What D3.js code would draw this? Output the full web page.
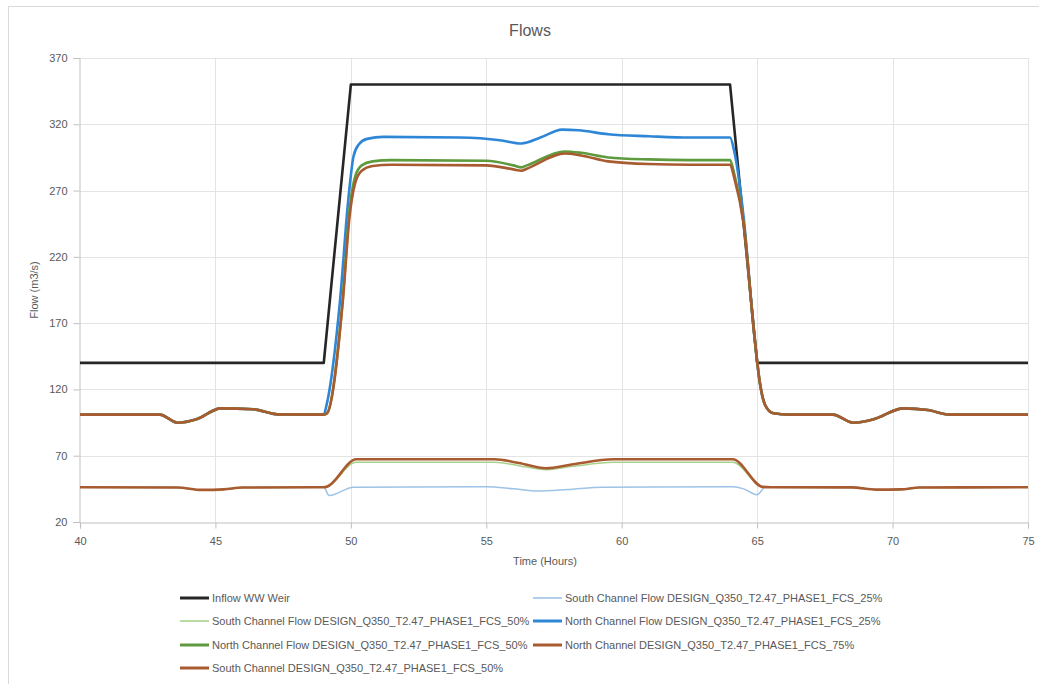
<!DOCTYPE html>
<html>
<head>
<meta charset="utf-8">
<script src="https://cdn.jsdelivr.net/npm/d3@7"></script>
<style>
	body { margin: 0; background: #fff; }
	text { font-family: "Liberation Sans", Arial, sans-serif; fill: #595959; }
</style>
</head>
<body>
<script>

// series data: [time (hours), flow (m3/s)]
var inflow = [[40,140],[49,140],[50,350],[64,350],[65,140],[75,140]];

// shared low-flow shoulders of the north channel series
var northPre = [[40,101],[42.95,101],[43.6,94.9],[44.3,97.5],[45.2,105.7],[46.4,105],[47.3,101.2],[49,101]];
var northPost = [[65.6,102],[66.2,101],[67.8,101],[68.55,94.9],[69.3,97.5],[70.4,105.7],[71.3,104.5],[72.1,101],[75,101]];

// shared shoulders of the south channel series
var southPre = [[40,46.2],[43.6,46],[44.5,44.2],[45.3,44.6],[46,46],[49,46.2]];
var southPost = [[65.5,46.2],[68.5,46.1],[69.4,44.4],[70.3,44.6],[71,46],[75,46.2]];

var north25 = [[49.1,108],[49.6,187],[49.9,262],[50.1,296],[50.3,305],[50.6,309],[51.2,310.5],[54,310],[55.5,308],[56.3,305.5],
	[57,310],[57.8,316],[58.4,315.5],[59.5,312.5],[61,311],[62.5,310],[64,310],[64.15,300],[64.5,250],[64.9,160],[65.1,125],[65.3,108]];
var north50 = [[49.12,102],[49.7,188],[49.95,255],[50.15,280],[50.4,289],[50.8,292],[51.5,293],[55,292.5],[56,289],[56.3,287.5],
	[56.5,289],[57.9,299.5],[58.5,298.5],[59.5,295],[61,293.5],[62.5,293],[64,293],[64.15,283],[64.5,246],[64.9,160],[65.1,125],[65.3,108]];
var north75 = [[49.12,102],[49.7,186],[49.95,250],[50.15,275],[50.4,285],[50.8,288.5],[51.5,289.5],[55,289],[56,286],[56.3,285],
	[56.5,286.5],[57.9,298],[58.5,296.5],[59.5,292],[61,290],[62.5,289.5],[64,289.5],[64.15,280],[64.5,245],[64.9,160],[65.1,125],[65.3,108]];

var south25 = [[49.2,40],[50.1,46.3],[55,46.5],[56,45],[56.9,43.4],[58,44.5],[59.3,46.3],[64.1,46.5],[64.5,45],[65,40.5],[65.3,46.2]];
var south50 = [[49.1,46.5],[50.2,65],[55.3,65],[56.2,62.5],[57.2,59.5],[58.2,62],[59.7,65],[64.1,65],[65.2,46.5]];
var south75 = [[49.1,46.5],[50.2,67.3],[55.3,67.3],[56.2,64.5],[57.2,60.5],[58.2,63.5],[59.7,67.3],[64.1,67.3],[65.2,46.5]];

var yTicks = [20,70,120,170,220,270,320,370];
var xTicks = [40,45,50,55,60,65,70,75];

var series = [
	{ name: 'Inflow WW Weir', data: inflow, color: '#262626', width: 2.6, curve: d3.curveLinear },
	{ name: 'South Channel Flow DESIGN_Q350_T2.47_PHASE1_FCS_25%', data: southPre.concat(south25, southPost), color: '#9DC3E6', width: 1.5 },
	{ name: 'South Channel Flow DESIGN_Q350_T2.47_PHASE1_FCS_50%', data: southPre.concat(south50, southPost), color: '#A9D18E', width: 1.5 },
	{ name: 'North Channel Flow DESIGN_Q350_T2.47_PHASE1_FCS_25%', data: northPre.concat(north25, northPost), color: '#2E86D6', width: 2.6 },
	{ name: 'North Channel Flow DESIGN_Q350_T2.47_PHASE1_FCS_50%', data: northPre.concat(north50, northPost), color: '#5E9A3E', width: 2.6 },
	{ name: 'North Channel DESIGN_Q350_T2.47_PHASE1_FCS_75%', data: northPre.concat(north75, northPost), color: '#A95B30', width: 2.6 },
	{ name: 'South Channel DESIGN_Q350_T2.47_PHASE1_FCS_50%', data: southPre.concat(south75, southPost), color: '#A95B30', width: 2.6 }
];

var W = 1039, H = 684;
var plot = { left: 80, right: 1028, top: 58, bottom: 522 };

var svg = d3.select('body').append('svg')
	.attr('width', W)
	.attr('height', H);

// chart border
svg.append('rect')
	.attr('x', 8.5).attr('y', 6.5)
	.attr('width', W + 10).attr('height', H + 10)
	.attr('fill', 'none')
	.attr('stroke', '#D9D9D9');

var x = d3.scaleLinear().domain([40, 75]).range([plot.left, plot.right]);
var y = d3.scaleLinear().domain([20, 370]).range([plot.bottom, plot.top]);

// gridlines
var grid = svg.append('g').attr('id', 'grid-layer');
grid.selectAll('.hgrid').data(yTicks.slice(1)).enter().append('line')
	.attr('x1', plot.left).attr('x2', plot.right)
	.attr('y1', function(d){ return Math.round(y(d)) + 0.5; })
	.attr('y2', function(d){ return Math.round(y(d)) + 0.5; })
	.attr('stroke', '#E4E4E4');
grid.selectAll('.vgrid').data(xTicks.slice(1)).enter().append('line')
	.attr('y1', plot.top).attr('y2', plot.bottom)
	.attr('x1', function(d){ return Math.round(x(d)) + 0.5; })
	.attr('x2', function(d){ return Math.round(x(d)) + 0.5; })
	.attr('stroke', '#E4E4E4');

// axes
var xAxis = svg.append('g')
	.attr('transform', 'translate(0,' + (plot.bottom + 0.5) + ')');
xAxis.call(d3.axisBottom(x).tickValues(d3.range(40, 76, 1)).tickSize(4).tickFormat(''));
xAxis.call(d3.axisBottom(x).tickValues(xTicks).tickSize(6).tickPadding(9).tickFormat(d3.format('d')));

var yAxis = svg.append('g')
	.attr('transform', 'translate(' + (plot.left - 0.5) + ',0)');
yAxis.call(d3.axisLeft(y).tickValues(d3.range(20, 371, 10)).tickSize(4).tickFormat(''));
yAxis.call(d3.axisLeft(y).tickValues(yTicks).tickSize(6).tickPadding(6).tickFormat(d3.format('d')));

svg.selectAll('.domain').attr('stroke', '#BFBFBF');
svg.selectAll('.tick line').attr('stroke', '#BFBFBF');
svg.selectAll('.tick text')
	.attr('fill', '#595959')
	.style('font-size', '11px')
	.style('font-family', '"Liberation Sans", Arial, sans-serif');

// lines
var lineLayer = svg.append('g').attr('id', 'line-layer');
series.forEach(function(s){
	var line = d3.line()
		.x(function(d){ return x(d[0]); })
		.y(function(d){ return y(d[1]); })
		.curve(s.curve || d3.curveMonotoneX);
	lineLayer.append('path')
		.datum(s.data)
		.attr('d', line)
		.attr('fill', 'none')
		.attr('stroke', s.color)
		.attr('stroke-width', s.width)
		.attr('stroke-linejoin', 'round');
});

// titles
svg.append('text')
	.attr('x', 530).attr('y', 36)
	.attr('text-anchor', 'middle')
	.style('font-size', '16px')
	.text('Flows');

svg.append('text')
	.attr('x', 545).attr('y', 565)
	.attr('text-anchor', 'middle')
	.style('font-size', '11px')
	.text('Time (Hours)');

svg.append('text')
	.attr('transform', 'translate(38,290) rotate(-90)')
	.attr('text-anchor', 'middle')
	.style('font-size', '11px')
	.text('Flow (m3/s)');

// legend, two columns filled row by row
var legend = svg.append('g').attr('id', 'legend-layer');
var rowY = [598, 621, 645, 668];
var colX = [180, 533];
series.forEach(function(s, i){
	var cx = colX[i % 2], cy = rowY[Math.floor(i / 2)];
	legend.append('line')
		.attr('x1', cx).attr('x2', cx + 29)
		.attr('y1', cy).attr('y2', cy)
		.attr('stroke', s.color)
		.attr('stroke-width', s.width > 2 ? 3 : 1.6);
	legend.append('text')
		.attr('x', cx + 32).attr('y', cy + 4)
		.style('font-size', '11px')
		.text(s.name);
});

</script>
</body>
</html>
